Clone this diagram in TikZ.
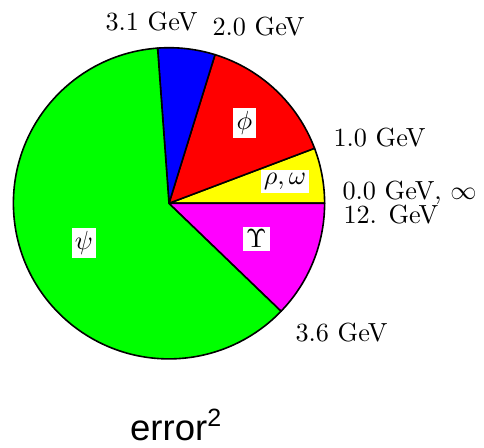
\documentclass[tikz,border=0pt]{standalone}
\usepackage{fontspec}
\newfontfamily\arialfont{Liberation Sans}
\tikzset{
  lab/.style={font=\fontsize{10}{12}\selectfont, scale=2.62, inner sep=0pt, anchor=base west},
  inlab/.style={font=\fontsize{10}{12}\selectfont, scale=2.62, fill=white, inner sep=1.25pt},
  slice/.style={draw=black, line width=1.6pt, line join=round}
}
\definecolor{pgreen}{RGB}{0,255,0}
\definecolor{pblue}{RGB}{0,0,255}
\definecolor{pred}{RGB}{255,0,0}
\definecolor{pyellow}{RGB}{255,255,0}
\definecolor{pmag}{RGB}{255,0,255}
\begin{document}
\begin{tikzpicture}[x=1pt,y=1pt]
\useasboundingbox (0,0) rectangle (484,447);
\def\R{155.6}
\coordinate (c) at (169,243.7);
% slices
\draw[slice, fill=pyellow] (c) -- ++(0:\R) arc[start angle=0, end angle=20.7, radius=\R] -- cycle;
\draw[slice, fill=pred] (c) -- ++(20.7:\R) arc[start angle=20.7, end angle=72.8, radius=\R] -- cycle;
\draw[slice, fill=pblue] (c) -- ++(72.8:\R) arc[start angle=72.8, end angle=94.2, radius=\R] -- cycle;
\draw[slice, fill=pgreen] (c) -- ++(94.2:\R) arc[start angle=94.2, end angle=316.1, radius=\R] -- cycle;
\draw[slice, fill=pmag] (c) -- ++(316.1:\R) arc[start angle=-43.9, end angle=0, radius=\R] -- cycle;
% inner labels
\node[inlab] (phi) at (244.5,324) {$\phi$};
\node[inlab] (rho) at (285,265.3) {$\rho,\omega$};
\node[inlab] (psi) at (84,204) {$\psi$};
\node[inlab] (ups) at (256.3,208.2) {$\Upsilon$};
% outer labels
\node[lab] (l31) at (105,416.3) {3.1 GeV};
\node[lab] (l20) at (212,411) {2.0 GeV};
\node[lab] (l10) at (333,300.3) {1.0 GeV};
\node[lab] (l00) at (342,247) {0.0 GeV, $\infty$};
\node[lab] (l12) at (343,223) {12. GeV};
\node[lab] (l36) at (295,105.3) {3.6 GeV};
\node[inner sep=0pt, anchor=base west, font=\arialfont\fontsize{36.5}{40}\selectfont] (err) at (130,7) {error\raisebox{14pt}{\fontsize{25}{28}\selectfont 2}};
\end{tikzpicture}
\end{document}
